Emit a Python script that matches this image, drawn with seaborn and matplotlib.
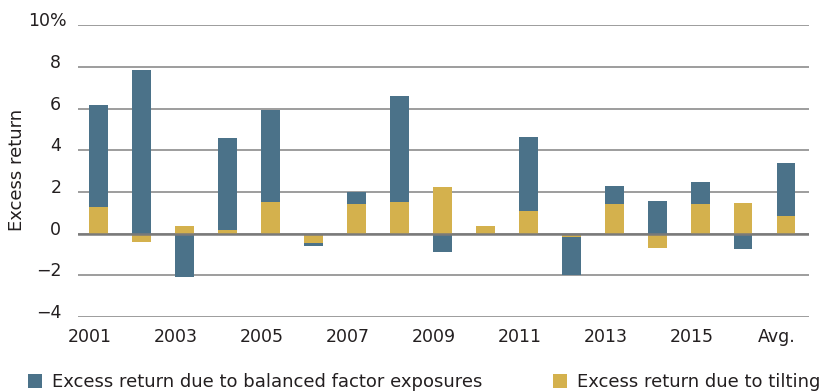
import matplotlib
matplotlib.use("Agg")
import matplotlib.pyplot as plt
import matplotlib.transforms as mtransforms
from matplotlib.patches import Patch
import seaborn as sns
import pandas as pd

categories = ["2001", "2002", "2003", "2004", "2005", "2006", "2007", "2008", "2009",
              "2010", "2011", "2012", "2013", "2014", "2015", "2016", "Avg."]
balanced = [4.90, 7.86, -2.06, 4.41, 4.42, -0.13, 0.57, 5.09, -0.86,
            0.00, 3.55, -1.84, 0.86, 1.57, 1.05, -0.72, 2.54]
tilting = [1.28, -0.38, 0.37, 0.18, 1.52, -0.45, 1.43, 1.52, 2.24,
           0.37, 1.09, -0.14, 1.43, -0.67, 1.43, 1.47, 0.85]
xtick_labels = ["2001", "", "2003", "", "2005", "", "2007", "", "2009",
                "", "2011", "", "2013", "", "2015", "", "Avg."]
yticks = [-4, -2, 0, 2, 4, 6, 8, 10]
ytick_labels = ["\u22124", "\u22122", "0", "2", "4", "6", "8", "10%"]
series_names = ["Excess return due to balanced factor exposures", "Excess return due to tilting"]

BLUE = "#4b7289"
GOLD = "#d4b14d"
TEXT = "#231f20"
FS = 12.5

# outer extent of the balanced segment (stacked on tilting when signs agree)
outer = [b + t if (b * t > 0) else b for b, t in zip(balanced, tilting)]
df = pd.DataFrame({"cat": categories, "outer": outer, "tilt": tilting})

sns.set_theme(style="white")
plt.rcParams["font.family"] = ["DejaVu Sans"]

fig = plt.figure(figsize=(8.24, 3.92), dpi=100)
ax = fig.add_axes([78 / 824, 1 - 317 / 392, (809 - 78) / 824, (317 - 25.3) / 392])

sns.barplot(data=df, x="cat", y="outer", order=categories, color=BLUE, width=0.43,
            saturation=1, ax=ax, zorder=2, linewidth=0)
sns.barplot(data=df, x="cat", y="tilt", order=categories, color=GOLD, width=0.43,
            saturation=1, ax=ax, zorder=2, linewidth=0)

ax.set_ylim(-4, 10)
ax.set_xlim(-0.48, 16.53)
ax.set_yticks(yticks)
ax.set_yticklabels(ytick_labels)
ax.set_xticks(range(len(categories)))
ax.set_xticklabels(xtick_labels)
ax.yaxis.grid(True, color="#959595", linewidth=1.3, zorder=0)
ax.set_axisbelow(True)
ax.axhline(0, color="#7a7a7a", linewidth=1.8, zorder=3)
for s in ax.spines.values():
    s.set_visible(False)
ax.tick_params(axis="both", length=0, labelsize=FS, colors=TEXT)
ax.tick_params(axis="y", pad=12)
ax.tick_params(axis="x", pad=8)
ax.set_xlabel("")
ax.set_ylabel("")
fig.text(17 / 824, 1 - 170 / 392, "Excess return", rotation=90, ha="center", va="center",
         fontsize=13, color=TEXT)

# shift tick labels like the reference
dx = mtransforms.ScaledTranslation(-9 / 100, 0, fig.dpi_scale_trans)
for lab in ax.get_xticklabels():
    lab.set_transform(lab.get_transform() + dx)
dy = mtransforms.ScaledTranslation(0, 6 / 100, fig.dpi_scale_trans)
for lab in ax.get_yticklabels():
    lab.set_transform(lab.get_transform() + dy)
top = ax.get_yticklabels()[-1]
top.set_transform(top.get_transform() + mtransforms.ScaledTranslation(5 / 100, 0, fig.dpi_scale_trans))

for i, (name, col) in enumerate(zip(series_names, [BLUE, GOLD])):
    xpos = [28 / 824, 553 / 824][i]
    fig.legend(handles=[Patch(facecolor=col, edgecolor="none")], labels=[name],
               loc="center left", bbox_to_anchor=(xpos, 1 - 382 / 392), frameon=False,
               borderpad=0, borderaxespad=0, handlelength=0.78, handleheight=0.78,
               handletextpad=0.55, fontsize=13, labelcolor=TEXT)

fig.savefig("out.png", dpi=100)
